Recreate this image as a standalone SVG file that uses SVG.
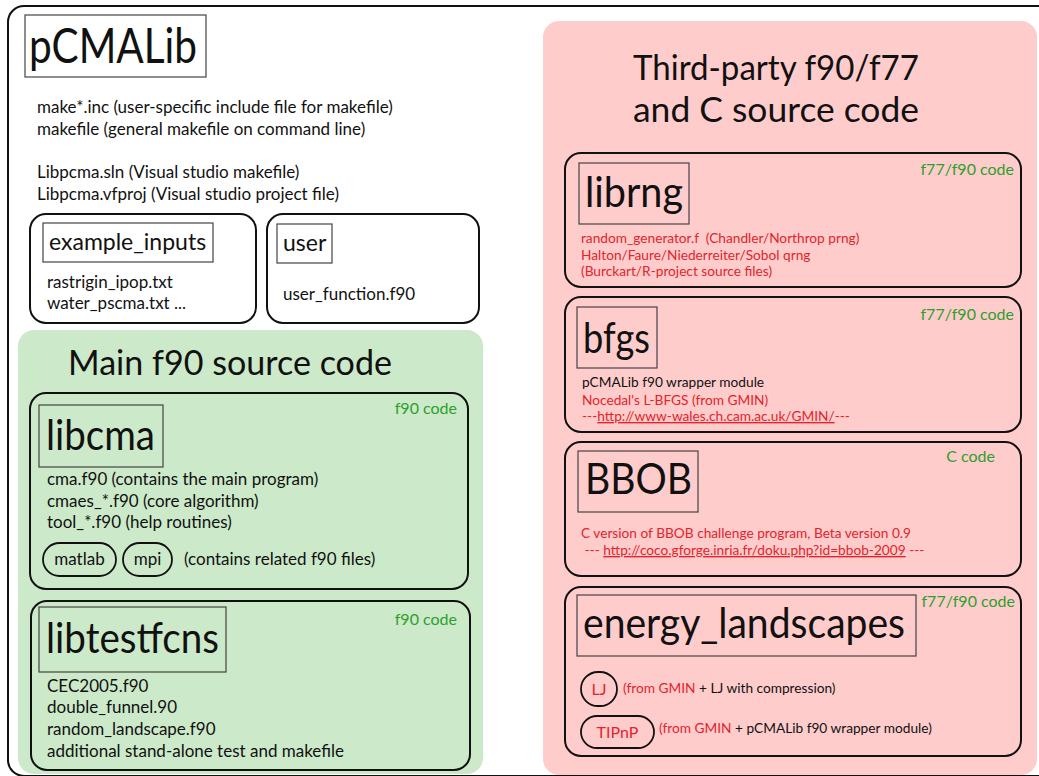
<svg xmlns="http://www.w3.org/2000/svg" width="1039" height="776" viewBox="0 0 1039 776">
<style>
text{font-family:Lato,"Liberation Sans",sans-serif;fill:#111}
.box{fill:none;stroke:#111;stroke-width:2}
.tbox{fill:none;stroke:#444;stroke-width:1.2}
.t1{font-size:17px}
.t2{font-size:13.7px}
.red{fill:#e3242b}
.grn{fill:#2ca02c;font-size:16px}
.big{font-size:43px}
.pill{fill:none;stroke:#111;stroke-width:1.8}
.pt{font-size:16px;fill:#e3242b}
</style>
<rect x="0" y="0" width="1039" height="776" fill="#fff"/>
<g id="outer">
<rect x="8" y="6" width="1060" height="770" rx="16" class="box"/>
</g>
<g id="pcmalib">
<rect x="25" y="15" width="181" height="62" class="tbox"/>
<text x="29" y="63" font-size="48" textLength="168" lengthAdjust="spacingAndGlyphs">pCMALib</text>
<text x="37" y="113" class="t1">make*.inc (user-specific include file for makefile)</text>
<text x="37" y="135" class="t1">makefile (general makefile on command line)</text>
<text x="37" y="178" class="t1">Libpcma.sln (Visual studio makefile)</text>
<text x="37" y="200" class="t1">Libpcma.vfproj (Visual studio project file)</text>
</g>
<g id="example_inputs">
<rect x="30" y="214" width="226" height="109" rx="16" class="box"/>
<rect x="43" y="223" width="170" height="39" class="tbox"/>
<text x="49" y="250" font-size="23">example_inputs</text>
<text x="47" y="288" class="t1">rastrigin_ipop.txt</text>
<text x="47" y="309" class="t1">water_pscma.txt ...</text>
</g>
<g id="user">
<rect x="267" y="214" width="212" height="109" rx="16" class="box"/>
<rect x="277" y="224" width="55" height="39" class="tbox"/>
<text x="283" y="251" font-size="23">user</text>
<text x="283" y="300" class="t1">user_function.f90</text>
</g>
<g id="main">
<rect x="18" y="330" width="465" height="444" rx="16" fill="#cce9c9"/>
<text x="68" y="375" font-size="34" textLength="324" lengthAdjust="spacingAndGlyphs">Main f90 source code</text>
</g>
<g id="libcma">
<rect x="30" y="393" width="438" height="196" rx="16" class="box"/>
<rect x="39" y="405" width="124" height="62" class="tbox"/>
<text x="46" y="450" class="big" textLength="109" lengthAdjust="spacingAndGlyphs">libcma</text>
<text x="457" y="414" class="grn" text-anchor="end">f90 code</text>
<text x="47" y="485" class="t1">cma.f90 (contains the main program)</text>
<text x="47" y="507" class="t1">cmaes_*.f90 (core algorithm)</text>
<text x="47" y="528" class="t1">tool_*.f90 (help routines)</text>
<rect x="43" y="543" width="73" height="33" rx="16.5" class="pill"/>
<text x="79.5" y="565" class="t1" text-anchor="middle">matlab</text>
<rect x="123" y="543" width="49" height="33" rx="16.5" class="pill"/>
<text x="147.5" y="565" class="t1" text-anchor="middle">mpi</text>
<text x="184" y="565" class="t1">(contains related f90 files)</text>
</g>
<g id="libtestfcns">
<rect x="31" y="601" width="439" height="169" rx="16" class="box"/>
<rect x="39" y="607" width="187" height="65" class="tbox"/>
<text x="46" y="653" class="big" textLength="173" lengthAdjust="spacingAndGlyphs">libtestfcns</text>
<text x="457" y="625" class="grn" text-anchor="end">f90 code</text>
<text x="47" y="692" class="t1">CEC2005.f90</text>
<text x="47" y="713" class="t1">double_funnel.90</text>
<text x="47" y="735" class="t1">random_landscape.f90</text>
<text x="47" y="757" class="t1">additional stand-alone test and makefile</text>
</g>
<g id="thirdparty">
<rect x="543" y="21" width="494" height="754" rx="16" fill="#ffcccc"/>
<text x="633" y="80" font-size="35" textLength="286" lengthAdjust="spacingAndGlyphs">Third-party f90/f77</text>
<text x="633" y="122" font-size="35" textLength="286" lengthAdjust="spacingAndGlyphs">and C source code</text>
</g>
<g id="librng">
<rect x="565" y="153" width="456" height="134" rx="16" class="box"/>
<rect x="579" y="163" width="110" height="61" class="tbox"/>
<text x="585" y="207" class="big" textLength="98" lengthAdjust="spacingAndGlyphs">librng</text>
<text x="1014" y="175" class="grn" text-anchor="end">f77/f90 code</text>
<text x="581" y="243" class="t2 red" xml:space="preserve">random_generator.f  (Chandler/Northrop prng)</text>
<text x="581" y="260" class="t2 red">Halton/Faure/Niederreiter/Sobol qrng</text>
<text x="581" y="276" class="t2 red">(Burckart/R-project source files)</text>
</g>
<g id="bfgs">
<rect x="565" y="297" width="456" height="135" rx="16" class="box"/>
<rect x="577" y="307" width="80" height="61" class="tbox"/>
<text x="583" y="353" class="big" textLength="67" lengthAdjust="spacingAndGlyphs">bfgs</text>
<text x="1014" y="320" class="grn" text-anchor="end">f77/f90 code</text>
<text x="582" y="387" class="t2">pCMALib f90 wrapper module</text>
<text x="582" y="405" class="t2 red">Nocedal's L-BFGS (from GMIN)</text>
<text x="582" y="421" class="t2 red">---<tspan text-decoration="underline">http://www-wales.ch.cam.ac.uk/GMIN/</tspan>---</text>
</g>
<g id="bbob">
<rect x="565" y="442" width="456" height="134" rx="16" class="box"/>
<rect x="578" y="451" width="120" height="61" class="tbox"/>
<text x="585" y="494" class="big" textLength="107" lengthAdjust="spacingAndGlyphs">BBOB</text>
<text x="995" y="462" class="grn" text-anchor="end">C code</text>
<text x="581" y="538" class="t2 red">C version of BBOB challenge program, Beta version 0.9</text>
<text x="581" y="555" class="t2 red" xml:space="preserve"> --- <tspan text-decoration="underline">http://coco.gforge.inria.fr/doku.php?id=bbob-2009</tspan> ---</text>
</g>
<g id="energy_landscapes">
<rect x="565" y="587" width="456" height="169" rx="16" class="box"/>
<rect x="577" y="595" width="339" height="61" class="tbox"/>
<text x="583" y="638" font-size="42" textLength="322" lengthAdjust="spacingAndGlyphs">energy_landscapes</text>
<text x="1015" y="607" class="grn" font-size="15.5" text-anchor="end">f77/f90 code</text>
<rect x="581" y="672" width="36" height="34" rx="17" class="pill"/>
<text x="599" y="695" class="pt" text-anchor="middle">LJ</text>
<text x="623" y="693" class="t2"><tspan class="red">(from GMIN</tspan> + LJ with compression)</text>
<rect x="581" y="716" width="73" height="32" rx="16" class="pill"/>
<text x="617.5" y="738" class="pt" text-anchor="middle">TIPnP</text>
<text x="659" y="733" class="t2"><tspan class="red">(from GMIN</tspan> + pCMALib f90 wrapper module)</text>
</g>
</svg>
